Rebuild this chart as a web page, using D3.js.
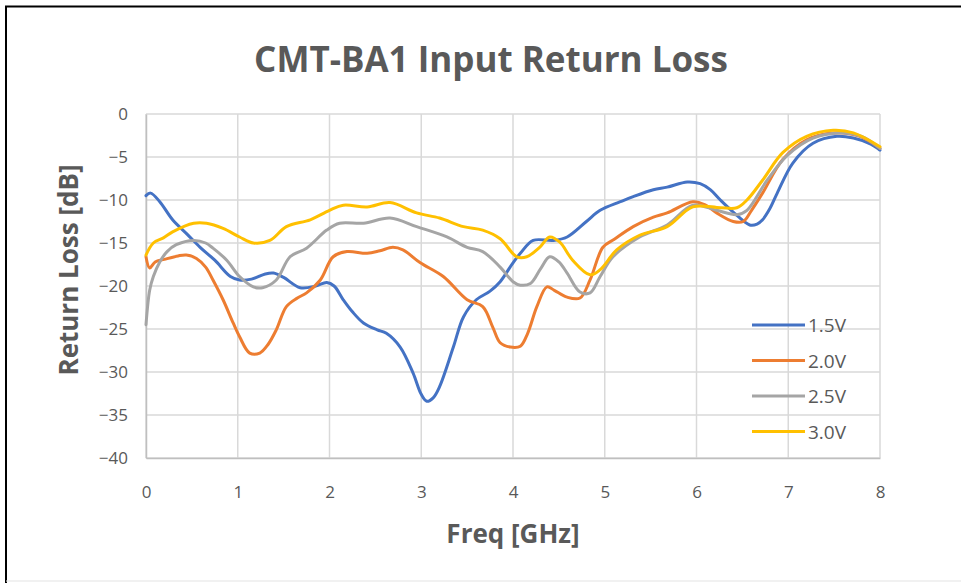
<!DOCTYPE html>
<html>
<head>
<meta charset="utf-8">
<script src="https://cdn.jsdelivr.net/npm/d3@7"></script>
<style>
  body { margin: 0; background: #fff; }
  text { font-family: "Open Sans", "Noto Sans", sans-serif; fill: #595959; }
</style>
</head>
<body>
<div id="chart"></div>
<script>
const MARGIN = { TOP: 114, LEFT: 146 }
const WIDTH = 880 - 146
const HEIGHT = 458 - 114

const seriesNames = ['1.5V', '2.0V', '2.5V', '3.0V']
const seriesColors = ['#4472C4', '#ED7D31', '#A5A5A5', '#FFC000']
const xTicks = [0, 1, 2, 3, 4, 5, 6, 7, 8]
const yTicks = [0, -5, -10, -15, -20, -25, -30, -35, -40]

// 1.5V
const freq15 = [0, 0.05, 0.15, 0.29, 0.45, 0.59, 0.75, 0.92, 1.02, 1.15, 1.3, 1.39, 1.5, 1.68, 1.85, 1.97, 2.05, 2.15, 2.25, 2.37, 2.52, 2.62, 2.77, 2.91, 3.0, 3.06, 3.13, 3.2, 3.35, 3.46, 3.6, 3.75, 3.86, 4.0, 4.08, 4.22, 4.44, 4.59, 4.8, 4.95, 5.17, 5.31, 5.53, 5.68, 5.9, 6.04, 6.15, 6.26, 6.4, 6.58, 6.66, 6.72, 6.8, 6.88, 7.05, 7.27, 7.53, 7.71, 7.9, 8]
const rl15 = [-9.5, -9.2, -10.2, -12.3, -14.0, -15.5, -17.0, -18.9, -19.3, -19.2, -18.6, -18.5, -19.0, -20.2, -20.0, -19.6, -20.0, -21.6, -23.0, -24.3, -25.1, -25.5, -27.1, -30.1, -32.6, -33.4, -33.0, -31.7, -27.1, -23.6, -21.6, -20.6, -19.5, -17.3, -16.2, -14.7, -14.7, -14.3, -12.5, -11.2, -10.2, -9.6, -8.8, -8.5, -7.9, -8.1, -8.8, -10.0, -11.4, -12.9, -12.8, -12.3, -11.0, -9.2, -5.7, -3.4, -2.6, -2.8, -3.5, -4.2]

// 2.0V
const freq20 = [0, 0.04, 0.1, 0.2, 0.35, 0.44, 0.55, 0.65, 0.73, 0.84, 0.95, 1.02, 1.13, 1.24, 1.33, 1.42, 1.53, 1.65, 1.75, 1.9, 2.04, 2.19, 2.41, 2.55, 2.69, 2.8, 2.99, 3.24, 3.5, 3.67, 3.78, 3.86, 3.97, 4.08, 4.16, 4.26, 4.37, 4.45, 4.59, 4.73, 4.84, 4.98, 5.1, 5.31, 5.53, 5.68, 5.96, 6.1, 6.22, 6.4, 6.51, 6.6, 6.72, 6.94, 7.2, 7.49, 7.78, 8]
const rl20 = [-16.6, -17.9, -17.2, -16.9, -16.5, -16.4, -16.8, -17.8, -19.3, -21.6, -24.3, -25.9, -27.8, -27.8, -26.8, -25.1, -22.4, -21.4, -20.8, -19.3, -16.6, -16.0, -16.2, -15.9, -15.5, -15.8, -17.3, -18.9, -21.6, -22.4, -24.8, -26.6, -27.1, -27.0, -25.5, -22.4, -20.1, -20.5, -21.3, -21.4, -19.3, -15.5, -14.6, -13.1, -12.0, -11.5, -10.2, -10.6, -11.5, -12.5, -12.5, -11.2, -9.2, -5.3, -3.0, -2.2, -2.6, -4.0]

// 2.5V
const freq25 = [0, 0.04, 0.08, 0.15, 0.23, 0.33, 0.52, 0.65, 0.73, 0.88, 1.02, 1.17, 1.27, 1.42, 1.57, 1.75, 1.97, 2.11, 2.37, 2.66, 2.95, 3.28, 3.5, 3.67, 3.86, 4.0, 4.08, 4.19, 4.3, 4.4, 4.5, 4.59, 4.73, 4.84, 4.95, 5.09, 5.38, 5.68, 5.96, 6.22, 6.44, 6.55, 6.77, 6.99, 7.27, 7.56, 7.8, 8]
const rl25 = [-24.5, -20.5, -18.9, -17.2, -16.0, -15.2, -14.7, -15.0, -15.6, -17.0, -18.9, -20.1, -20.2, -19.3, -16.6, -15.6, -13.5, -12.7, -12.7, -12.1, -13.1, -14.3, -15.5, -16.0, -17.8, -19.5, -19.9, -19.7, -18.0, -16.6, -17.2, -18.5, -20.7, -20.8, -18.9, -16.6, -14.3, -12.9, -10.6, -11.2, -11.7, -11.2, -7.7, -4.8, -2.8, -2.2, -2.6, -4.0]

// 3.0V
const freq30 = [0, 0.08, 0.19, 0.29, 0.52, 0.66, 0.84, 1.02, 1.17, 1.35, 1.53, 1.79, 2.0, 2.15, 2.41, 2.66, 2.95, 3.2, 3.46, 3.67, 3.86, 4.04, 4.15, 4.29, 4.4, 4.51, 4.65, 4.84, 4.95, 5.13, 5.38, 5.68, 5.96, 6.26, 6.44, 6.55, 6.72, 6.94, 7.2, 7.49, 7.71, 8]
const rl30 = [-16.4, -15.0, -14.4, -13.7, -12.7, -12.7, -13.3, -14.3, -15.0, -14.7, -13.1, -12.3, -11.2, -10.6, -10.8, -10.3, -11.5, -12.1, -13.1, -13.5, -14.5, -16.6, -16.6, -15.5, -14.3, -14.9, -17.0, -18.7, -18.1, -15.8, -14.1, -13.1, -10.8, -10.9, -10.9, -10.0, -7.7, -4.5, -2.6, -1.9, -2.2, -3.8]

const allFreq = [freq15, freq20, freq25, freq30]
const allRl = [rl15, rl20, rl25, rl30]

const series = seriesNames.map((name, i) => ({
  name: name,
  color: seriesColors[i],
  values: allFreq[i].map((f, j) => ({ f: f, v: allRl[i][j] }))
}))

const svg = d3.select('#chart')
  .append('svg')
    .attr('width', 961)
    .attr('height', 583)

// outer frame
svg.append('line').attr('x1', 5).attr('x2', 961).attr('y1', 6.5).attr('y2', 6.5)
  .attr('stroke', '#000').attr('stroke-width', 2)
svg.append('line').attr('x1', 6).attr('x2', 6).attr('y1', 6).attr('y2', 583)
  .attr('stroke', '#000').attr('stroke-width', 2)
svg.append('line').attr('x1', 6).attr('x2', 961).attr('y1', 581).attr('y2', 581)
  .attr('stroke', '#e3e3e3').attr('stroke-width', 1)

const g = svg.append('g')
  .attr('transform', `translate(${MARGIN.LEFT}, ${MARGIN.TOP})`)

const x = d3.scaleLinear().domain([0, 8]).range([0, WIDTH])
const y = d3.scaleLinear().domain([-40, 0]).range([HEIGHT, 0])

// gridlines
g.selectAll('.vgrid')
  .data(xTicks)
  .enter().append('line')
    .attr('x1', d => x(d)).attr('x2', d => x(d))
    .attr('y1', 0).attr('y2', HEIGHT)
    .attr('stroke', '#d9d9d9').attr('stroke-width', 1.5)

g.selectAll('.hgrid')
  .data(yTicks)
  .enter().append('line')
    .attr('x1', 0).attr('x2', WIDTH)
    .attr('y1', d => y(d)).attr('y2', d => y(d))
    .attr('stroke', '#d9d9d9').attr('stroke-width', 1.5)

// axes
const xAxisCall = d3.axisBottom(x).tickValues(xTicks).tickSize(0).tickPadding(28)
const xAxisGroup = g.append('g')
  .attr('transform', `translate(0, ${HEIGHT})`)
  .call(xAxisCall)
xAxisGroup.select('.domain').attr('stroke', '#bfbfbf').attr('stroke-width', 1.5)
xAxisGroup.selectAll('text').attr('font-size', 17).attr('fill', '#595959')
  .style('font-family', '"Open Sans", sans-serif')

const yAxisCall = d3.axisLeft(y).tickValues(yTicks).tickSize(0).tickPadding(18)
const yAxisGroup = g.append('g').call(yAxisCall)
yAxisGroup.select('.domain').attr('stroke', '#bfbfbf').attr('stroke-width', 1.5)
yAxisGroup.selectAll('text').attr('font-size', 17).attr('fill', '#595959')
  .style('font-family', '"Open Sans", sans-serif')

// lines
const line = d3.line()
  .x(d => x(d.f))
  .y(d => y(d.v))
  .curve(d3.curveCatmullRom.alpha(0.5))

g.selectAll('.series')
  .data(series)
  .enter().append('path')
    .attr('d', d => line(d.values))
    .attr('fill', 'none')
    .attr('stroke', d => d.color)
    .attr('stroke-width', 3)
    .attr('stroke-linejoin', 'round')
    .attr('stroke-linecap', 'round')

// legend
const legend = svg.append('g')
series.forEach((s, i) => {
  const ly = 325 + i * 35.5
  legend.append('line')
    .attr('x1', 752).attr('x2', 805).attr('y1', ly).attr('y2', ly)
    .attr('stroke', s.color).attr('stroke-width', 3)
  legend.append('text')
    .attr('x', 808).attr('y', ly + 7)
    .attr('font-size', 19)
    .text(s.name)
})

// titles
svg.append('text')
  .attr('x', 491).attr('y', 72)
  .attr('text-anchor', 'middle')
  .attr('font-size', 35).attr('font-weight', 'bold')
  .text('CMT-BA1 Input Return Loss')

svg.append('text')
  .attr('x', 513).attr('y', 543)
  .attr('text-anchor', 'middle')
  .attr('font-size', 26).attr('font-weight', 'bold')
  .text('Freq [GHz]')

svg.append('text')
  .attr('transform', 'translate(78, 270) rotate(-90)')
  .attr('text-anchor', 'middle')
  .attr('font-size', 26).attr('font-weight', 'bold')
  .text('Return Loss [dB]')
</script>
</body>
</html>
